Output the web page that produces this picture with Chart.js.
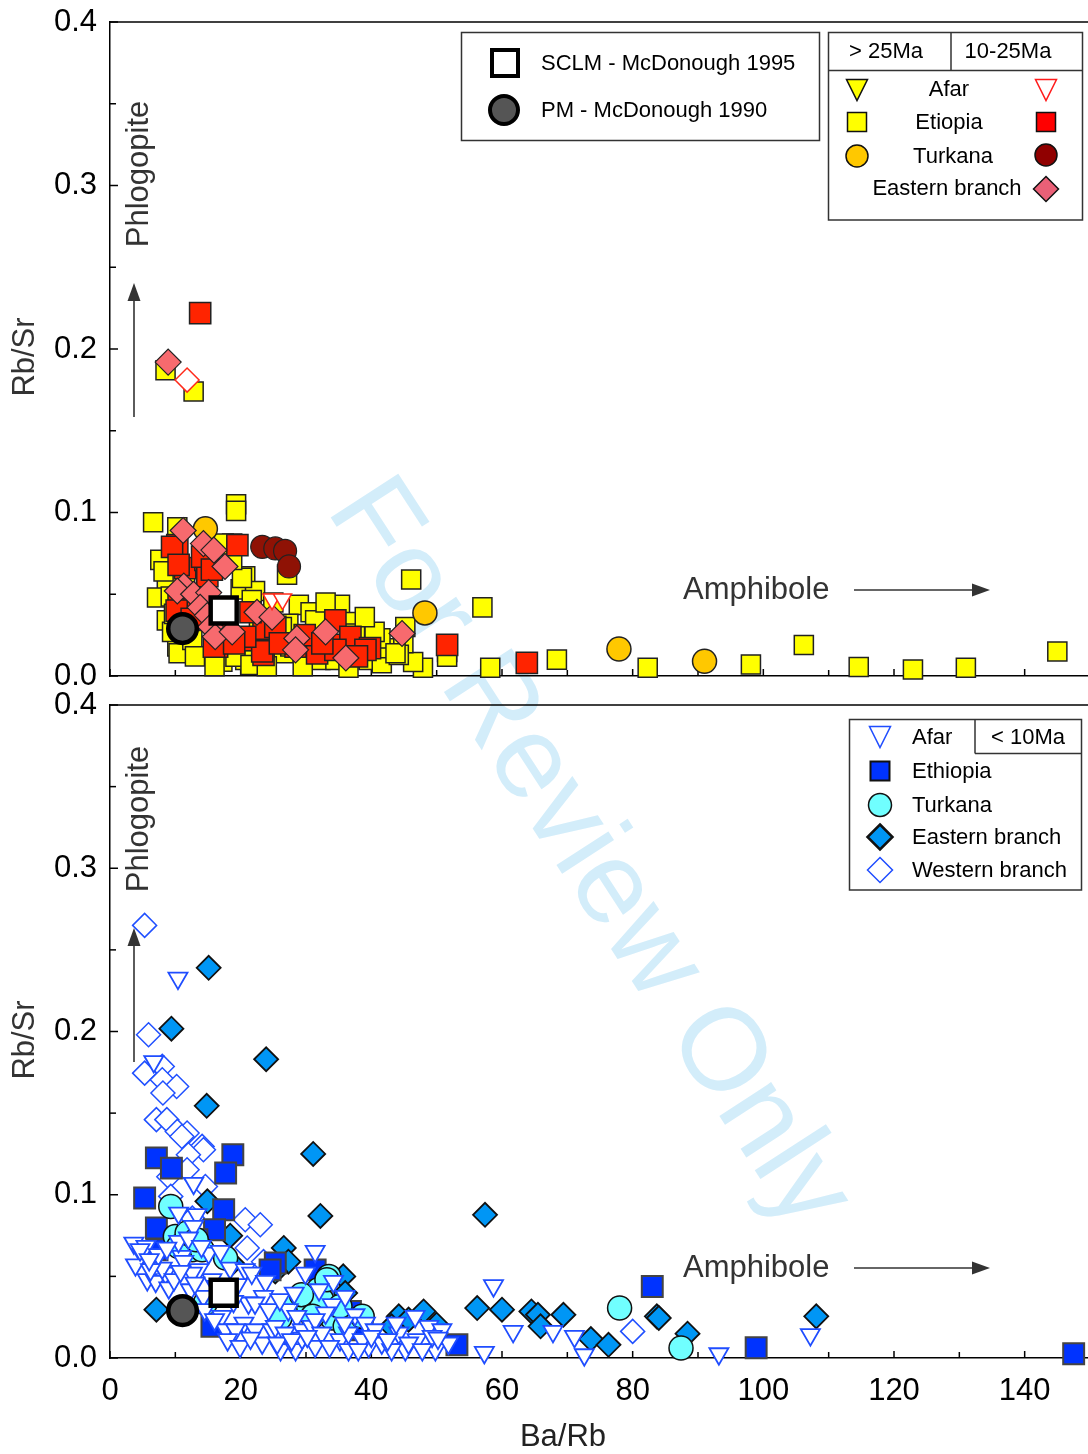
<!DOCTYPE html>
<html lang="en">
<head>
<meta charset="UTF-8">
<title>Rb/Sr vs Ba/Rb</title>
<script src="https://cdn.jsdelivr.net/npm/chart.js"></script>
<style>
  html, body { margin: 0; padding: 0; background: #fff; overflow: hidden; }
  body { width: 1088px; height: 1454px; position: relative; }
  canvas { position: absolute; left: 0; }
  #topChart { top: 0; }
  #bottomChart { top: 678px; }
  #watermark {
    position: absolute; left: 595px; top: 850px;
    transform: translate(-50%, -50%) rotate(57deg);
    font: 117px 'Liberation Sans', Arial, sans-serif;
    color: #d3edfa; white-space: nowrap;
  }
</style>
</head>
<body>
<div id="watermark">For Review Only</div>
<canvas id="topChart" width="1100" height="700"></canvas>
<canvas id="bottomChart" width="1100" height="776"></canvas>
<script>
// reference compositions (same in both panels)
const sclm = [[17.4, 0.040]];
const pm = [[11.1, 0.029]];

// top panel: > 25Ma and 10-25Ma samples [Ba/Rb, Rb/Sr]
const etiopiaOld = [
  [8.5,0.187],[12.8,0.174],[6.6,0.094],[19.3,0.105],[19.3,0.101],[46.1,0.059],[57.0,0.042],[58.2,0.005],
  [68.4,0.010],[82.3,0.005],[98.1,0.007],[106.2,0.019],[114.6,0.0055],[122.9,0.004],[131.0,0.005],[145.0,0.015],
  [51.6,0.0147],[47.9,0.005],[46.4,0.0086],[10.3,0.091],[7.7,0.071],[8.7,0.058],[7.2,0.048],[8.7,0.034],
  [10.3,0.018],[17.2,0.0088],[20.7,0.0098],[18.7,0.081],[20.7,0.061],[20.0,0.053],[22.2,0.052],[27.1,0.062],
  [28.9,0.0435],[27.3,0.032],[35.2,0.0435],[37.0,0.033],[32.2,0.0098],[39.6,0.0098],[41.6,0.0078],[42.6,0.017],
  [45.2,0.030],[44.9,0.020],[51.6,0.0118],[33.5,0.015],[30.9,0.024],[41.4,0.023],[44.2,0.0129],[30.7,0.039],
  [26.6,0.014],[17.4,0.081],[20.2,0.060],[21.7,0.0465],[26.3,0.030],[27.6,0.018],[30.4,0.016],[34.5,0.0098],
  [37.5,0.026],[43.7,0.0139],[9.3,0.0486],[9.5,0.027],[11.5,0.059],[18.7,0.071],[10.5,0.0139],[19.2,0.0118],
  [21.5,0.0067],[31.4,0.034],[8.2,0.064],[12.6,0.022],[24.0,0.006],[29.5,0.006],[36.5,0.005],[40.5,0.027],
  [9.8,0.038],[13.0,0.012],[16.0,0.006],[22.8,0.032],[25.0,0.045],[33.0,0.045],[39.0,0.036]
];
const etiopiaMid = [
  [13.8,0.222],[63.8,0.008],[51.6,0.019],[10.3,0.080],[11.5,0.066],[14.6,0.071],[14.9,0.061],[19.5,0.080],
  [10.5,0.0435],[16.4,0.018],[22.0,0.022],[23.5,0.029],[23.5,0.0129],[21.5,0.039],[25.3,0.030],[28.4,0.018],
  [31.7,0.0139],[34.5,0.034],[35.2,0.019],[36.8,0.024],[39.8,0.017],[14.1,0.073],[15.6,0.065],[11.5,0.042],
  [15.9,0.018],[23.3,0.015],[20.7,0.024],[34.5,0.016],[39.1,0.016],[9.5,0.079],[10.5,0.068],[10.2,0.040],
  [12.5,0.035],[17.5,0.028],[19.0,0.020],[26.0,0.020],[29.8,0.025],[32.5,0.020],[37.8,0.012]
];
const turkanaOld = [[14.6,0.090],[48.2,0.0386],[77.9,0.0165],[91.0,0.009]];
const turkanaMid = [[23.3,0.079],[25.3,0.078],[26.8,0.0765],[27.4,0.067]];
const afarMid = [[24.8,0.047],[26.4,0.047]];
const westernMid = [[11.8,0.181]];
const easternMid = [
  [8.9,0.192],[11.2,0.089],[14.3,0.081],[15.9,0.077],[17.6,0.067],[11.3,0.055],[10.3,0.052],[12.8,0.050],
  [15.1,0.051],[13.8,0.042],[14.9,0.037],[15.4,0.030],[16.1,0.024],[18.7,0.027],[22.5,0.039],[24.8,0.036],
  [28.6,0.023],[28.4,0.016],[33.0,0.027],[36.1,0.011],[44.7,0.026]
];

// bottom panel: < 10Ma samples
const afarYoung = [
  [10.4,0.2327],[6.7,0.1816],[58.7,0.0443],[61.7,0.0163],[57.3,0.0034],[67.8,0.0163],[71.1,0.0132],[72.6,0.002],
  [93.2,0.0026],[107.2,0.0143],[31.4,0.0653],[12.8,0.107],
  [3.65,0.0704],[4.9,0.0633],[3.9,0.0571],[5.7,0.048],[7.0,0.047],[8.5,0.052],[9.0,0.043],[10.5,0.0888],
  [13.3,0.0878],[12.8,0.0806],[11.0,0.0622],[11.3,0.0592],[15.1,0.0643],[16.9,0.0653],[18.4,0.0551],[20.7,0.0541],
  [21.7,0.052],[23.8,0.0469],[23.5,0.0377],[21.2,0.0337],[18.9,0.0347],[17.1,0.0255],[17.7,0.0173],[20.5,0.0214],
  [22.2,0.0173],[23.3,0.0092],[24.8,0.0173],[26.1,0.0051],[27.3,0.0296],[28.6,0.0255],[29.4,0.0173],[30.9,0.0194],
  [31.4,0.0071],[29.9,0.052],[34.2,0.0469],[34.0,0.0327],[33.0,0.0276],[35.2,0.0112],[36.5,0.0153],[37.5,0.0265],
  [39.1,0.0214],[40.6,0.0173],[39.6,0.0071],[41.6,0.0092],[44.2,0.0153],[45.2,0.0051],[47.0,0.0112],[48.8,0.0194],
  [50.8,0.0173],[49.8,0.0051],[51.8,0.0092],[15.6,0.048],[13.6,0.0541],[12.6,0.052],[6.7,0.0582],[8.0,0.0551],
  [9.8,0.048],[16.4,0.0439],[14.3,0.0378],[12.3,0.0418],[25.3,0.0194],[31.4,0.0235],[36.0,0.0378],[22.2,0.0337],
  [24.3,0.0296],[19.2,0.0173],[26.8,0.0153],[32.4,0.0153],[36.5,0.0051],[38.6,0.0112],[46.7,0.0255],[49.3,0.0133],
  [43.1,0.0051],[45.7,0.0092],[28.4,0.0051],[29.4,0.0122],[5.5,0.0684],[4.6,0.0664],[7.4,0.0633],[6.2,0.0541],
  [10.5,0.0714],[12.0,0.0735],[14.0,0.0684],
  [14.5,0.0296],[16.0,0.0235],[18.0,0.0112],[19.9,0.0071],[21.5,0.0122],[25.6,0.0092],[27.8,0.0112],[30.2,0.0133],
  [33.6,0.0071],[35.9,0.0214],[38.0,0.0051],[40.0,0.0133],[42.5,0.0112],[43.8,0.0214],[47.8,0.0051],[50.2,0.0122],
  [13.0,0.0459],[10.8,0.0531],[19.5,0.0449],[26.0,0.0357],[28.2,0.0398],[32.0,0.0418],[8.7,0.0673],[6.0,0.0602]
];
const ethiopiaYoung = [
  [7.1,0.1226],[9.4,0.1163],[18.8,0.1245],[17.7,0.1133],[5.3,0.098],[17.4,0.0908],[7.1,0.0796],[16.0,0.0786],
  [7.2,0.0663],[25.3,0.0582],[53.1,0.0081],[83.0,0.0438],[98.9,0.0063],[147.5,0.0026],[31.4,0.054],[36.8,0.0285],
  [38.6,0.0173],[15.6,0.0194],[13.3,0.0724],[24.5,0.054]
];
const turkanaYoung = [
  [9.3,0.0928],[10.0,0.0745],[10.5,0.0683],[12.6,0.0663],[14.1,0.0663],[17.7,0.0612],[33.5,0.050],[31.9,0.0418],
  [27.3,0.0316],[30.4,0.0316],[32.4,0.0357],[34.0,0.0245],[36.0,0.0194],[38.6,0.0255],[14.6,0.0337],[78.0,0.0306],
  [87.4,0.0061],[33.2,0.048],[11.8,0.0765],[13.2,0.0724],[29.3,0.0388],[35.2,0.0316],[31.0,0.0255],[26.0,0.0245]
];
const easternYoung = [
  [15.1,0.239],[9.4,0.2017],[23.9,0.183],[14.8,0.1545],[31.1,0.125],[32.2,0.087],[57.4,0.0877],[56.2,0.0306],
  [60.0,0.0296],[64.5,0.0285],[65.5,0.0265],[65.9,0.0194],[69.4,0.0265],[73.6,0.0116],[76.3,0.0081],[83.7,0.0255],
  [84.0,0.0245],[88.4,0.0149],[108.1,0.0255],[7.1,0.0296],[26.6,0.0674],[14.9,0.096],[18.4,0.0749],[35.7,0.050],
  [36.0,0.0398],[44.2,0.0255],[48.0,0.0285],[45.7,0.0235],[43.1,0.0194],[50.0,0.0204],[27.3,0.059],[25.3,0.053],
  [18.7,0.058]
];
const westernYoung = [
  [5.3,0.265],[5.9,0.198],[5.3,0.1745],[8.0,0.1786],[8.0,0.1704],[10.2,0.1663],[8.1,0.1623],[7.1,0.146],
  [8.7,0.146],[10.3,0.1388],[11.8,0.1378],[14.1,0.1296],[11.0,0.1357],[14.3,0.1276],[12.0,0.1245],[9.0,0.111],
  [11.8,0.1153],[14.6,0.105],[9.3,0.099],[20.7,0.0847],[23.0,0.0816],[21.0,0.0674],[12.6,0.0857],[23.5,0.059],
  [80.0,0.0163]
];

const FONT = "'Liberation Sans', Arial, Helvetica, sans-serif";
Chart.defaults.font.family = FONT;
Chart.defaults.color = '#000';

function pts(arr) {
  return arr.map(p => ({ x: p[0], y: p[1] }));
}

// one scatter dataset, marker look passed in
function series(label, data, style, radius, fill, stroke, width, rotation) {
  return {
    label: label,
    data: pts(data),
    showLine: false,
    clip: false,
    pointStyle: style,
    pointRadius: radius,
    pointHoverRadius: radius,
    pointBackgroundColor: fill,
    pointBorderColor: stroke,
    pointBorderWidth: width,
    pointHoverBorderWidth: width,
    pointRotation: rotation || 0
  };
}

// drop the label overhang padding so the plot box stays where we put it
function noPad(s) {
  s.paddingTop = 0;
  s.paddingBottom = 0;
  s.paddingLeft = 0;
  s.paddingRight = 0;
}

function makeScales(showX) {
  return {
    x: {
      type: 'linear', min: 0, max: 150,
      ticks: {
        stepSize: 10, display: showX, padding: 15, maxRotation: 0, autoSkip: false,
        font: { size: 31 }, color: '#000',
        callback: v => (v % 20 === 0 ? String(v) : '')
      },
      grid: { display: true, drawOnChartArea: false, drawTicks: false },
      border: { display: true, color: '#000', width: 1.5 },
      afterFit: s => { s.height = showX ? 96 : 24; noPad(s); }
    },
    y: {
      min: 0, max: 0.4,
      ticks: {
        stepSize: 0.05, padding: 13, autoSkip: false,
        font: { size: 31 }, color: '#000',
        callback: v => {
          const t = Math.round(v * 100);
          return t % 10 === 0 ? (t / 100).toFixed(1) : '';
        }
      },
      grid: { display: true, drawOnChartArea: false, drawTicks: false },
      border: { display: true, color: '#000', width: 1.5 },
      afterFit: s => { s.width = 110; noPad(s); }
    }
  };
}

// simple marker shapes for the hand-drawn legends
function marker(ctx, kind, x, y, r, fill, stroke, lw) {
  ctx.save();
  ctx.beginPath();
  if (kind === 'square') ctx.rect(x - r, y - r, 2 * r, 2 * r);
  else if (kind === 'circle') ctx.arc(x, y, r, 0, Math.PI * 2);
  else if (kind === 'diamond') {
    ctx.moveTo(x, y - r); ctx.lineTo(x + r, y); ctx.lineTo(x, y + r); ctx.lineTo(x - r, y); ctx.closePath();
  } else if (kind === 'tridown') {
    ctx.moveTo(x - r, y - r); ctx.lineTo(x + r, y - r); ctx.lineTo(x, y + r); ctx.closePath();
  }
  ctx.fillStyle = fill;
  ctx.fill();
  ctx.lineWidth = lw;
  ctx.strokeStyle = stroke;
  ctx.stroke();
  ctx.restore();
}

function arrow(ctx, x1, y1, x2, y2) {
  const a = Math.atan2(y2 - y1, x2 - x1);
  const len = 18, half = 6.5;
  ctx.save();
  ctx.strokeStyle = '#333';
  ctx.fillStyle = '#333';
  ctx.lineWidth = 1.6;
  ctx.beginPath();
  ctx.moveTo(x1, y1);
  ctx.lineTo(x2 - Math.cos(a) * len * 0.7, y2 - Math.sin(a) * len * 0.7);
  ctx.stroke();
  ctx.beginPath();
  ctx.moveTo(x2, y2);
  ctx.lineTo(x2 - Math.cos(a) * len - Math.sin(a) * half, y2 - Math.sin(a) * len + Math.cos(a) * half);
  ctx.lineTo(x2 - Math.cos(a) * len + Math.sin(a) * half, y2 - Math.sin(a) * len - Math.cos(a) * half);
  ctx.closePath();
  ctx.fill();
  ctx.restore();
}

function text(ctx, str, x, y, size, color, align, rot) {
  ctx.save();
  ctx.translate(x, y);
  if (rot) ctx.rotate(rot);
  ctx.font = size + 'px ' + FONT;
  ctx.fillStyle = color;
  ctx.textAlign = align || 'left';
  ctx.textBaseline = 'middle';
  ctx.fillText(str, 0, 0);
  ctx.restore();
}

function box(ctx, x, y, w, h) {
  ctx.save();
  ctx.fillStyle = '#fff';
  ctx.fillRect(x, y, w, h);
  ctx.strokeStyle = '#333';
  ctx.lineWidth = 1.5;
  ctx.strokeRect(x, y, w, h);
  ctx.restore();
}

function line(ctx, x1, y1, x2, y2) {
  ctx.save();
  ctx.strokeStyle = '#333';
  ctx.lineWidth = 1.5;
  ctx.beginPath();
  ctx.moveTo(x1, y1);
  ctx.lineTo(x2, y2);
  ctx.stroke();
  ctx.restore();
}

const panelDecor = {
  id: 'panelDecor',
  beforeDatasetsDraw(chart) {
    const { ctx, chartArea, scales } = chart;
    ctx.save();
    ctx.strokeStyle = '#000';
    ctx.lineWidth = 1.5;
    // top frame line
    ctx.beginPath();
    ctx.moveTo(chartArea.left, chartArea.top);
    ctx.lineTo(chart.width, chartArea.top);
    ctx.stroke();
    // inward ticks
    scales.x.ticks.forEach(t => {
      const px = scales.x.getPixelForValue(t.value);
      const l = t.value % 20 === 0 ? 7 : 6;
      ctx.beginPath();
      ctx.moveTo(px, chartArea.bottom);
      ctx.lineTo(px, chartArea.bottom - l);
      ctx.stroke();
    });
    scales.y.ticks.forEach(t => {
      const py = scales.y.getPixelForValue(t.value);
      const l = Math.round(t.value * 100) % 10 === 0 ? 8 : 6;
      ctx.beginPath();
      ctx.moveTo(chartArea.left, py);
      ctx.lineTo(chartArea.left + l, py);
      ctx.stroke();
    });
    ctx.restore();
  },
  afterDraw(chart, args, opts) {
    const ctx = chart.ctx;
    const top = opts.panel === 'top';
    const dy = top ? 0 : -678;

    // axis titles
    text(ctx, 'Rb/Sr', 25, (top ? 357 : 1040) + dy, 31, '#333', 'center', -Math.PI / 2);
    if (!top) text(ctx, 'Ba/Rb', 563, 1437 + dy, 31, '#222', 'center');

    // mineral trends
    text(ctx, 'Phlogopite', 139, (top ? 174 : 819) + dy, 31, '#333', 'center', -Math.PI / 2);
    arrow(ctx, 134, (top ? 417 : 1062) + dy, 134, (top ? 283 : 928) + dy);
    text(ctx, 'Amphibole', 683, (top ? 590 : 1268) + dy, 31, '#333', 'left');
    arrow(ctx, 854, (top ? 590 : 1268) + dy, 990, (top ? 590 : 1268) + dy);

    if (top) {
      // reference legend
      box(ctx, 461.5, 32.5, 358, 108);
      marker(ctx, 'square', 505, 63, 13, '#fff', '#000', 4);
      text(ctx, 'SCLM - McDonough 1995', 541, 64, 22, '#000', 'left');
      marker(ctx, 'circle', 504, 110, 14, '#555', '#000', 4);
      text(ctx, 'PM - McDonough 1990', 541, 111, 22, '#000', 'left');

      // age legend
      box(ctx, 828.5, 32.5, 254, 187.5);
      line(ctx, 828.5, 70.5, 1082.5, 70.5);
      line(ctx, 951, 32.5, 951, 70.5);
      text(ctx, '> 25Ma', 886, 52, 22, '#000', 'center');
      text(ctx, '10-25Ma', 1008, 52, 22, '#000', 'center');
      text(ctx, 'Afar', 949, 90, 22, '#000', 'center');
      text(ctx, 'Etiopia', 949, 123, 22, '#000', 'center');
      text(ctx, 'Turkana', 953, 157, 22, '#000', 'center');
      text(ctx, 'Eastern branch', 947, 189, 22, '#000', 'center');
      marker(ctx, 'tridown', 857, 90, 10.5, '#ffff00', '#111', 1.5);
      marker(ctx, 'square', 857, 122, 9.5, '#ffff00', '#111', 1.5);
      marker(ctx, 'circle', 857, 156, 11, '#ffc800', '#111', 1.5);
      marker(ctx, 'tridown', 1046, 90, 10.5, '#fff', '#ff1a1a', 1.5);
      marker(ctx, 'square', 1046, 122, 9.5, '#ff0000', '#111', 1.5);
      marker(ctx, 'circle', 1046, 155, 11, '#900000', '#111', 1.5);
      marker(ctx, 'diamond', 1046, 189, 12.5, '#ea6077', '#111', 1.5);
    } else {
      box(ctx, 849.5, 719.5 + dy, 232, 170.5);
      line(ctx, 975, 719.5 + dy, 975, 753.5 + dy);
      line(ctx, 975, 753.5 + dy, 1081.5, 753.5 + dy);
      text(ctx, '< 10Ma', 1028, 737.5 + dy, 22, '#000', 'center');
      const rows = [
        ['Afar', 737, 'tridown', 10.5, '#fff', '#1f4dff', 1.5],
        ['Ethiopia', 771, 'square', 9.5, '#0033ff', '#111', 2],
        ['Turkana', 805, 'circle', 11.5, '#70ffff', '#111', 1.5],
        ['Eastern branch', 837, 'diamond', 12.5, '#0096f5', '#111', 2.5],
        ['Western branch', 870, 'diamond', 12.5, '#fff', '#1f4dff', 1.5]
      ];
      rows.forEach(r => {
        marker(ctx, r[2], 880, r[1] + dy, r[3], r[4], r[5], r[6]);
        text(ctx, r[0], 912, r[1] + dy + 1, 22, '#000', 'left');
      });
    }
  }
};

function makeChart(id, panel, datasets, showX, padTop) {
  return new Chart(document.getElementById(id), {
    type: 'scatter',
    data: { datasets: datasets },
    options: {
      responsive: false,
      animation: false,
      events: [],
      layout: { autoPadding: false, padding: { top: padTop, right: 10, left: 0, bottom: 0 } },
      scales: makeScales(showX),
      plugins: {
        legend: { display: false },
        tooltip: { enabled: false },
        panelDecor: { panel: panel }
      }
    },
    plugins: [panelDecor]
  });
}

// first dataset is drawn on top
makeChart('topChart', 'top', [
  series('SCLM - McDonough 1995', sclm, 'rect', 18.4, '#fff', '#000', 4.5),
  series('PM - McDonough 1990', pm, 'circle', 14.3, '#555', '#000', 4.5),
  series('Afar 10-25Ma', afarMid, 'triangle', 10.5, '#fff', '#ff2a1a', 1.5, 180),
  series('Western branch 10-25Ma', westernMid, 'rectRot', 12, '#fff', '#ff2a1a', 1.5),
  series('Eastern branch 10-25Ma', easternMid, 'rectRot', 13, '#f76a6e', '#222', 1.2),
  series('Turkana 10-25Ma', turkanaMid, 'circle', 11.5, '#8f1205', '#222', 1.2),
  series('Turkana > 25Ma', turkanaOld, 'circle', 12, '#ffc800', '#222', 1.5),
  series('Etiopia 10-25Ma', etiopiaMid, 'rect', 15, '#ff2400', '#222', 1.5),
  series('Etiopia > 25Ma', etiopiaOld, 'rect', 13.5, '#ffff00', '#222', 1.5)
], false, 22);

makeChart('bottomChart', 'bottom', [
  series('SCLM - McDonough 1995', sclm, 'rect', 18.4, '#fff', '#000', 4.5),
  series('PM - McDonough 1990', pm, 'circle', 14.3, '#555', '#000', 4.5),
  series('Afar', afarYoung, 'triangle', 11, '#fff', '#1f4dff', 1.8, 180),
  series('Turkana', turkanaYoung, 'circle', 12, '#70ffff', '#111', 1.5),
  series('Ethiopia', ethiopiaYoung, 'rect', 14.8, '#0033ff', '#444', 2),
  series('Eastern branch', easternYoung, 'rectRot', 12, '#0096f5', '#111', 1.8),
  series('Western branch', westernYoung, 'rectRot', 12, '#fff', '#2050ff', 1.5)
], true, 27);
</script>
</body>
</html>
